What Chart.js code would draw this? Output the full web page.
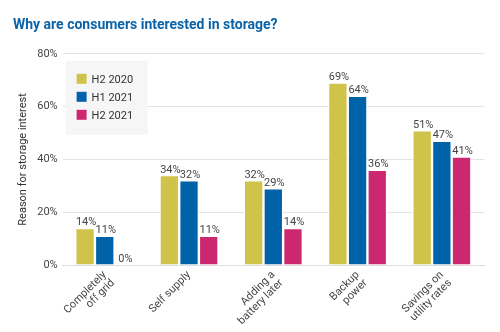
<!DOCTYPE html>
<html>
<head>
<meta charset="utf-8">
<script src="https://cdn.jsdelivr.net/npm/chart.js@4.4.0/dist/chart.umd.min.js"></script>
<style>
  html, body { margin: 0; padding: 0; background: #fff; }
  #wrap { width: 500px; height: 332px; }
</style>
</head>
<body>
<div id="wrap"><canvas id="storageChart" width="500" height="332"></canvas></div>
<script>
// chart data
var categories = [["Completely", "off grid"], "Self supply", ["Adding a", "battery later"], ["Backup", "power"], ["Savings on", "utility rates"]];
var seriesNames = ["H2 2020", "H1 2021", "H2 2021"];
var h2_2020 = [14, 34, 32, 69, 51];
var h1_2021 = [11, 32, 29, 64, 47];
var h2_2021 = [0, 11, 14, 36, 41];
var yTicks = [0, 20, 40, 60, 80];

var colors = ['#cfc34a', '#0062a8', '#cc2870'];
var font = "Roboto, 'Liberation Sans', sans-serif";

// value labels on top of each bar
var barLabels = {
    id: 'barLabels',
    afterDatasetsDraw: function(chart) {
        var ctx = chart.ctx;
        ctx.save();
        ctx.font = '11px ' + font;
        ctx.fillStyle = '#444';
        ctx.textAlign = 'center';
        ctx.textBaseline = 'bottom';
        chart.data.datasets.forEach(function(ds, i) {
            chart.getDatasetMeta(i).data.forEach(function(bar, j) {
                ctx.fillText(ds.data[j] + '%', bar.x + 1, bar.y);
            });
        });
        ctx.restore();
    }
};

// legend drawn inside the plot area
var innerLegend = {
    id: 'innerLegend',
    afterDraw: function(chart) {
        var ctx = chart.ctx;
        var area = chart.chartArea;
        var x = area.left + 3, y = area.top + 7;
        ctx.save();
        ctx.fillStyle = '#f6f6f6';
        ctx.fillRect(x, y, 82, 74);
        ctx.font = '11px ' + font;
        ctx.textBaseline = 'middle';
        chart.data.datasets.forEach(function(ds, i) {
            var ry = y + 18 + i * 18;
            ctx.fillStyle = ds.backgroundColor;
            ctx.fillRect(x + 11, ry - 5, 10, 10);
            ctx.fillStyle = '#333';
            ctx.fillText(ds.label, x + 26, ry + 1);
        });
        ctx.restore();
    }
};

new Chart(document.getElementById('storageChart'), {
    type: 'bar',
    data: {
        labels: categories,
        datasets: [
            { label: seriesNames[0], data: h2_2020, backgroundColor: colors[0] },
            { label: seriesNames[1], data: h1_2021, backgroundColor: colors[1] },
            { label: seriesNames[2], data: h2_2021, backgroundColor: colors[2] }
        ].map(function(d) {
            d.borderColor = '#fff';
            d.borderWidth = 1;
            d.categoryPercentage = 0.7;
            d.barPercentage = 0.98;
            return d;
        })
    },
    options: {
        responsive: false,
        animation: false,
        layout: { padding: { left: 13, right: 16, top: 0, bottom: 1 } },
        plugins: {
            legend: { display: false },
            tooltip: { enabled: false },
            title: {
                display: true,
                text: 'Why are consumers interested in storage?',
                align: 'start',
                color: '#0a63a8',
                font: { family: font, size: 14, weight: 'bold' },
                padding: { top: 17, bottom: 20 }
            }
        },
        scales: {
            x: {
                grid: { display: false, drawTicks: false },
                border: { color: '#ddd' },
                ticks: {
                    color: '#444',
                    font: { family: font, size: 11, lineHeight: 1.05 },
                    maxRotation: 45,
                    minRotation: 45,
                    padding: 4
                }
            },
            y: {
                min: 0,
                max: 80,
                afterBuildTicks: function(axis) {
                    axis.ticks = yTicks.map(function(v) { return { value: v }; });
                },
                grid: { color: '#e3e3e3', lineWidth: 1, drawTicks: false },
                border: { display: false },
                ticks: {
                    color: '#444',
                    font: { family: font, size: 11 },
                    padding: 5,
                    callback: function(v) { return v + '%'; }
                },
                title: {
                    display: true,
                    text: 'Reason for storage interest',
                    color: '#333',
                    font: { family: font, size: 11 },
                    padding: { top: 4, bottom: 2 }
                }
            }
        }
    },
    plugins: [barLabels, innerLegend]
});
</script>
</body>
</html>
